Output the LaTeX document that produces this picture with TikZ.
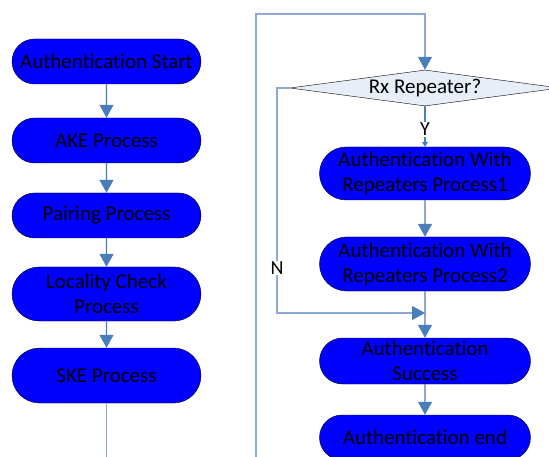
\documentclass[tikz,border=0pt]{standalone}
\usepackage{fontspec}
\setmainfont{Carlito}[Ligatures={NoCommon}]
\usepackage{tikz}
\usetikzlibrary{positioning, arrows.meta, shapes.misc, shapes.geometric}

\definecolor{nodeblue}{RGB}{0,0,255}
\definecolor{linec}{RGB}{74,126,187}
\definecolor{thinc}{RGB}{141,170,214}
\definecolor{decfill}{RGB}{232,238,248}

\begin{document}
\begin{tikzpicture}[
    x=1pt, y=-1pt,
    proc/.style={draw=black, rounded rectangle, fill=nodeblue, align=center, inner sep=0pt,
                 font=\fontsize{21}{25}\selectfont, text=black},
    lproc/.style={proc, minimum width=189pt},
    rproc/.style={proc, minimum width=211pt},
    decision/.style={draw=black, diamond, aspect=7.5, fill=decfill, inner sep=0pt,
                     minimum width=270pt, minimum height=36pt, font=\fontsize{21}{25}\selectfont},
    arr/.style={draw=linec, line width=1.4pt, -{Triangle[width=14pt,length=13pt]}},
    thin/.style={draw=thinc, line width=1.1pt},
    thinarr/.style={thin, -{Triangle[width=14pt,length=13pt,color=linec]}},
    lbl/.style={fill=white, inner sep=1pt, font=\fontsize{20}{24}\selectfont},
]
\useasboundingbox (0,0) rectangle (549,457);

% === LEFT: authentication chain ===
\node[lproc, minimum height=45pt] (start) at (106.5,61.5) {Authentication Start};
\node[lproc, minimum height=45pt] (ake)   at (106.5,140.5) {AKE Process};
\node[lproc, minimum height=45pt] (pair)  at (106.5,215.5) {Pairing Process};
\node[lproc, minimum height=54pt] (loc)   at (106.5,294) {Locality Check\\Process};
\node[lproc, minimum height=55pt] (ske)   at (106.5,375.5) {SKE Process};

\draw[arr] (start) -- (ake);
\draw[arr] (ake) -- (pair);
\draw[arr] (pair) -- (loc);
\draw[arr] (loc) -- (ske);

% === RIGHT: repeater check ===
\node[decision] (dec) at (425,88) {Rx Repeater?};
\node[rproc, minimum height=53pt] (rep1) at (425,173.5) {Authentication With\\Repeaters Process1};
\node[rproc, minimum height=54pt] (rep2) at (425,264) {Authentication With\\Repeaters Process2};
\node[rproc, minimum height=46pt] (succ) at (425,361) {Authentication\\Success};
\node[rproc, minimum height=45pt] (fin)  at (425,437.5) {Authentication end};

% --- loop from SKE round to the decision ---
\coordinate (loopbot) at (256,480);
\coordinate (looptop) at (256,14);
\draw[thinarr] (ske.south) |- (loopbot) -- (looptop) -| (dec.north);

% --- Y branch ---
\draw[draw=linec, line width=1.2pt, -{Triangle[width=6pt,length=5pt]}] (dec.south) -- (rep1.north)
    node[midway, lbl, yshift=-3pt] {Y};
\draw[arr] (rep1) -- (rep2);

% --- N branch ---
\coordinate (nturn) at (277,313);
\coordinate (join) at (425,313);
\draw[thinarr] (dec.west) -| (nturn) -- (join);
\node[lbl] (nlab) at (277,268) {N};

\draw[arr] (rep2) -- (succ);
\draw[arr] (succ) -- (fin);

\end{tikzpicture}
\end{document}
